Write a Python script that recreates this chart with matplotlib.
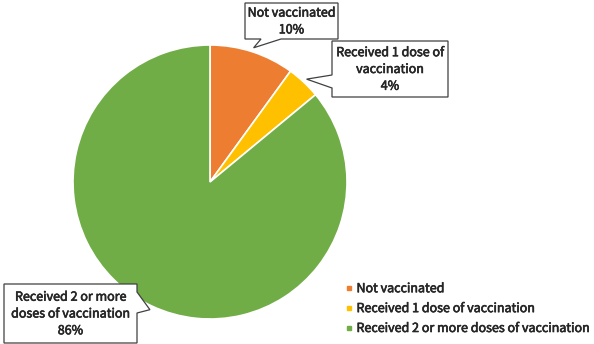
import numpy as np
import matplotlib
matplotlib.use("Agg")
import matplotlib.pyplot as plt
import matplotlib.patheffects as pe
from matplotlib.patches import Polygon
from matplotlib.lines import Line2D

plt.rcParams['font.family'] = ['Noto Sans CJK SC', 'DejaVu Sans']

categories = ["Not vaccinated", "Received 1 dose of vaccination",
              "Received 2 or more doses of vaccination"]
values = [10, 4, 86]
colors = ["#ED7D31", "#FFC000", "#70AD47"]
callout_texts = ["Not vaccinated\n10%", "Received 1 dose of\nvaccination\n4%",
                 "Received 2 or more\ndoses of vaccination\n86%"]

W, H = 594, 344
CX, CY, R = 210, 182, 137  # pie center/radius in pixels
FS = 9.0
TXT = "#262626"
bolden = [pe.withStroke(linewidth=0.45, foreground=TXT)]

fig = plt.figure(figsize=(W / 100, H / 100), dpi=100)
ax = fig.add_axes([0, 0, 1, 1])
wedges, _ = ax.pie(values, colors=colors, startangle=90, counterclock=False,
                   radius=1, wedgeprops=dict(edgecolor="white", linewidth=1.2))
ax.set_aspect('auto')
ax.set_xlim(-CX / R, (W - CX) / R)
ax.set_ylim(-(H - CY) / R, CY / R)
ax.axis('off')


def px(x, y):
    return ((x - CX) / R, (CY - y) / R)


# callout layout in pixels: box (x0, y0, x1, y1), side of tab, tab base range
layouts = [
    dict(box=(245, 3, 338, 39), side="bottom", base=(261, 281)),
    dict(box=(332, 41, 448, 97), side="left", base=(75, 88)),
    dict(box=(4, 284, 137, 343), side="right", base=(292, 313)),
]

total = float(sum(values))
cum = 0.0
for i, (v, lay, txt) in enumerate(zip(values, layouts, callout_texts)):
    mid = 90 - (cum + v / 2) / total * 360
    cum += v
    tip = (1.03 * np.cos(np.radians(mid)), 1.03 * np.sin(np.radians(mid)))
    x0, y0, x1, y1 = lay["box"]
    b0, b1 = lay["base"]
    if lay["side"] == "bottom":
        pts = [(x0, y0), (x1, y0), (x1, y1), (b1, y1), None, (b0, y1), (x0, y1)]
    elif lay["side"] == "left":
        pts = [(x0, y0), (x1, y0), (x1, y1), (x0, y1), (x0, b1), None, (x0, b0)]
    else:
        pts = [(x0, y0), (x1, y0), (x1, b0), None, (x1, b1), (x1, y1), (x0, y1)]
    poly = [tip if p is None else px(*p) for p in pts]
    ax.add_patch(Polygon(poly, closed=True, facecolor="white",
                         edgecolor="#404040", linewidth=0.9, zorder=5))
    tx, ty = px((x0 + x1) / 2, (y0 + y1) / 2 + 0.5)
    ax.text(tx, ty, txt, ha="center", va="center", fontsize=FS,
            color=TXT, linespacing=1.38, zorder=6, path_effects=bolden)

handles = [Line2D([], [], marker="s", linestyle="none", markersize=3.5,
                  markerfacecolor=c, markeredgecolor=c) for c in colors]
leg = fig.legend(handles, categories, loc="upper left",
                 bbox_to_anchor=(339 / W, 1 - 276 / H), frameon=False,
                 prop=dict(size=FS), handlelength=0.6,
                 handletextpad=0.3, labelspacing=0.55, borderpad=0,
                 labelcolor=TXT)
for t in leg.get_texts():
    t.set_path_effects(bolden)

fig.savefig("out.png", dpi=100)
